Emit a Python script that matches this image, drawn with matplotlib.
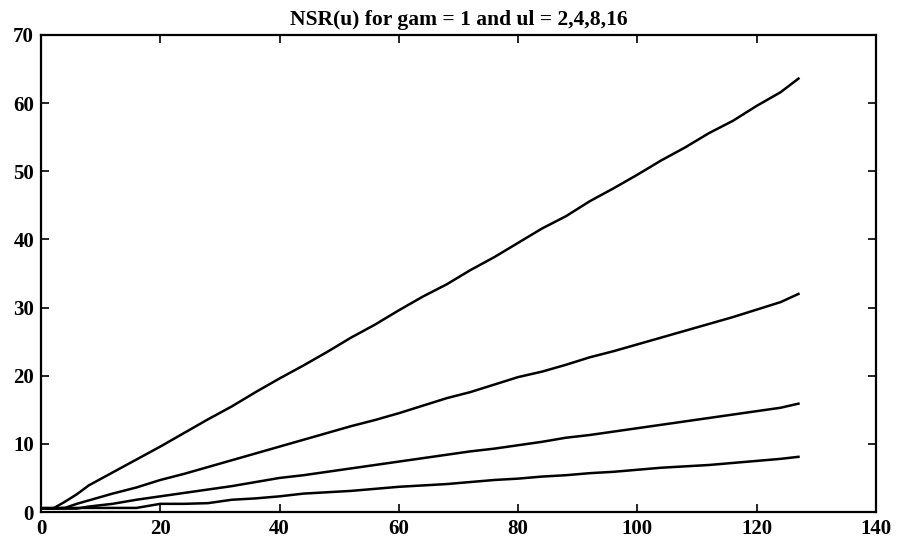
import numpy as np
import matplotlib
matplotlib.use("Agg")
import matplotlib.pyplot as plt

plt.rcParams['font.family'] = 'Liberation Serif'
plt.rcParams['font.size'] = 14
plt.rcParams['font.weight'] = 'bold'

# u positions
U = [0, 2, 4, 6, 8, 12, 16, 20, 24, 28, 32, 36, 40, 44, 48, 52, 56, 60, 64,
     68, 72, 76, 80, 84, 88, 92, 96, 100, 104, 108, 112, 116, 120, 124, 127]

NSR_UL2 = [0.5, 0.5, 1.5, 2.6, 3.9, 5.8, 7.7, 9.6, 11.6, 13.6, 15.5, 17.6, 19.6,
           21.5, 23.5, 25.6, 27.5, 29.6, 31.6, 33.4, 35.5, 37.4, 39.5, 41.6,
           43.4, 45.6, 47.5, 49.5, 51.6, 53.5, 55.6, 57.4, 59.6, 61.6, 63.6]
NSR_UL4 = [0.5, 0.5, 0.6, 1.2, 1.7, 2.7, 3.6, 4.7, 5.6, 6.6, 7.6, 8.6, 9.6,
           10.6, 11.6, 12.6, 13.5, 14.5, 15.6, 16.7, 17.6, 18.7, 19.8, 20.6,
           21.6, 22.7, 23.6, 24.6, 25.6, 26.6, 27.6, 28.6, 29.7, 30.8, 32.0]
NSR_UL8 = [0.5, 0.5, 0.5, 0.5, 0.8, 1.2, 1.8, 2.3, 2.8, 3.3, 3.8, 4.4, 5.0,
           5.4, 5.9, 6.4, 6.9, 7.4, 7.9, 8.4, 8.9, 9.3, 9.8, 10.3, 10.9, 11.3,
           11.8, 12.3, 12.8, 13.3, 13.8, 14.3, 14.8, 15.3, 15.9]
NSR_UL16 = [0.6, 0.6, 0.6, 0.6, 0.6, 0.6, 0.6, 1.2, 1.2, 1.3, 1.8, 2.0, 2.3,
            2.7, 2.9, 3.1, 3.4, 3.7, 3.9, 4.1, 4.4, 4.7, 4.9, 5.2, 5.4, 5.7,
            5.9, 6.2, 6.5, 6.7, 6.9, 7.2, 7.5, 7.8, 8.1]

fig = plt.figure(figsize=(8.97, 5.44), dpi=100, facecolor='white')
ax = fig.add_axes([0.0457, 0.0588, 0.9309, 0.8769])

for y in (NSR_UL2, NSR_UL4, NSR_UL8, NSR_UL16):
    ax.plot(U, y, color='black', linewidth=1.8)

ax.set_xlim(0, 140)
ax.set_ylim(0, 70)
ax.set_xticks(np.arange(0, 141, 20))
ax.set_yticks(np.arange(0, 71, 10))
ax.tick_params(direction='in', top=True, right=True, length=6, width=1.2,
               labelsize=15, pad=5)
for s in ax.spines.values():
    s.set_linewidth(1.6)

ax.set_title("NSR(u) for gam = 1 and ul = 2,4,8,16", fontsize=15.5,
             fontweight='bold', pad=7)

fig.savefig("out.png", dpi=100, facecolor='white')
